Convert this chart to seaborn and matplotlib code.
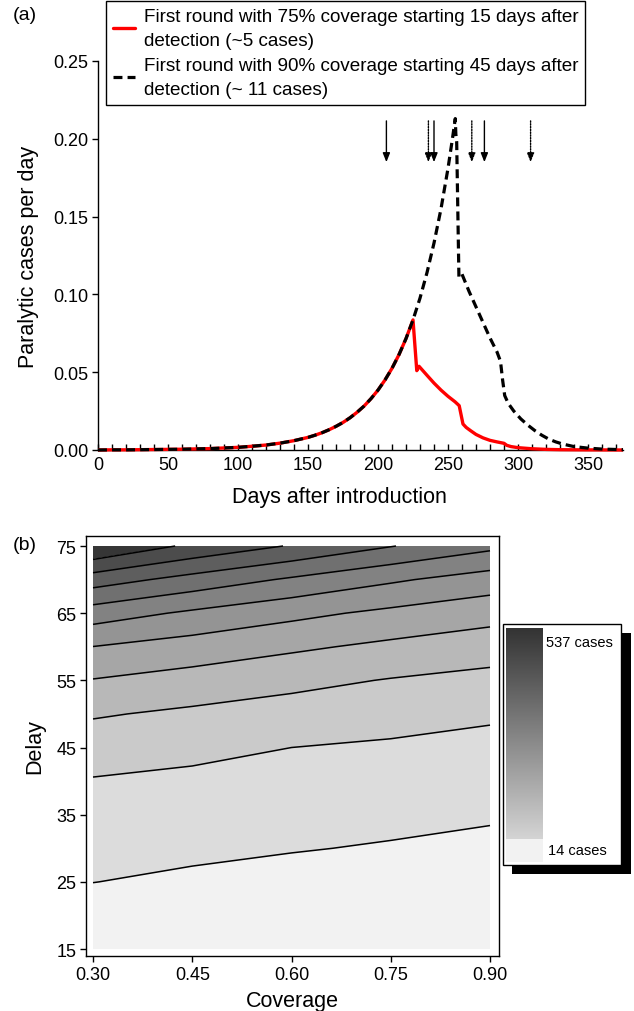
import numpy as np
import pandas as pd
import matplotlib
matplotlib.use("Agg")
import matplotlib.pyplot as plt
from matplotlib.patches import Rectangle
from matplotlib.colors import LinearSegmentedColormap
from matplotlib.lines import Line2D
import seaborn as sns

# ---------------- Panel (a) data ----------------
growth_days = [0, 10, 20, 30, 40, 50, 60, 70, 80, 90, 100, 110, 120, 130, 140,
               150, 155, 160, 165, 170, 175, 180, 185, 190, 195, 200, 205, 210,
               215, 220, 225]
growth_vals = [0.0000, 0.0001, 0.0001, 0.0002, 0.0003, 0.0004, 0.0005, 0.0007,
               0.0009, 0.0013, 0.0017, 0.0024, 0.0032, 0.0044, 0.0060, 0.0081,
               0.0095, 0.0111, 0.0130, 0.0152, 0.0177, 0.0207, 0.0242, 0.0282,
               0.0330, 0.0385, 0.0450, 0.0525, 0.0613, 0.0716, 0.0836]

red_days_after = [227.7, 229.3, 235, 240, 245, 250, 255, 258, 260.7, 263, 266,
                  270, 275, 280, 285, 290, 292, 295, 300, 310, 320, 330, 345, 375]
red_vals_after = [0.0510, 0.0538, 0.0480, 0.0430, 0.0385, 0.0345, 0.0310, 0.0285,
                  0.0167, 0.0145, 0.0125, 0.0100, 0.0078, 0.0062, 0.0052, 0.0043,
                  0.0030, 0.0022, 0.0015, 0.0008, 0.0004, 0.0002, 0.0001, 0.0000]

black_days_after = [230, 235, 240, 245, 250, 253, 255.2, 255.6, 256.2, 256.9,
                    257.8, 260.0, 265, 270, 275, 280, 285, 287.5, 289, 290.5, 293,
                    297, 302, 307, 312, 317, 322, 327, 332, 340, 350, 360, 375]
black_vals_after = [0.0976, 0.1140, 0.1330, 0.1550, 0.1810, 0.1990, 0.2130, 0.2030,
                    0.1980, 0.1600, 0.1110, 0.1130, 0.1020, 0.0920, 0.0820, 0.0720,
                    0.0630, 0.0570, 0.0450, 0.0350, 0.0300, 0.0250, 0.0200, 0.0160,
                    0.0125, 0.0095, 0.0070, 0.0052, 0.0038, 0.0022, 0.0012, 0.0006,
                    0.0002]

solid_arrow_days = [206, 240, 276]
dotted_arrow_days = [236, 267, 309]

red_label = "First round with 75% coverage starting 15 days after\ndetection (~5 cases)"
black_label = "First round with 90% coverage starting 45 days after\ndetection (~ 11 cases)"

# ---------------- Panel (b) data ----------------
coverage = [0.30, 0.45, 0.60, 0.75, 0.90]
delay = [15, 20, 25, 30, 35, 40, 45, 50, 55, 60, 65, 70, 75]
cases = [
    [22, 18, 16, 15, 14],
    [42, 34, 26, 19, 17],
    [62, 54, 46, 38, 30],
    [76, 70, 64, 58, 50],
    [91, 85, 79, 73, 67],
    [106, 100, 94, 88, 82],
    [131, 120, 109, 103, 97],
    [161, 148, 137, 126, 115],
    [202, 186, 169, 154, 143],
    [251, 231, 212, 194, 178],
    [323, 291, 264, 241, 222],
    [417, 377, 340, 306, 277],
    [537, 479, 438, 396, 358],
]
case_levels = [14, 61.5, 109, 156.5, 204, 251.5, 299, 346.5, 394, 441.5, 489, 537]
band_colors = ['#f2f2f2', '#dcdcdc', '#cacaca', '#b8b8b8', '#a6a6a6', '#949494',
               '#828282', '#707070', '#5e5e5e', '#4c4c4c', '#363636']

# ---------------- Style ----------------
sns.set_theme(style="white")
plt.rcParams['font.family'] = ['Liberation Sans', 'DejaVu Sans']
plt.rcParams['axes.edgecolor'] = 'black'
plt.rcParams['axes.linewidth'] = 1.0
plt.rcParams['text.color'] = 'black'
plt.rcParams['xtick.color'] = 'black'
plt.rcParams['ytick.color'] = 'black'
plt.rcParams['axes.labelcolor'] = 'black'

W, H = 634, 1012
def fx(px):
    return px / W
def fy(py):
    return 1 - py / H

fig = plt.figure(figsize=(W / 100, H / 100), dpi=100)
fig.patch.set_facecolor('white')

# ---------------- Panel (a) ----------------
ax1 = fig.add_axes([fx(98), fy(451), fx(623) - fx(98), fy(62) - fy(451)])
ax1.set_facecolor('white')

red_df = pd.DataFrame({"day": growth_days + red_days_after,
                       "rate": growth_vals + red_vals_after})
black_df = pd.DataFrame({"day": growth_days + black_days_after,
                         "rate": growth_vals + black_vals_after})

sns.lineplot(data=red_df, x="day", y="rate", ax=ax1, color="#ff0000", lw=2.4,
             sort=False, estimator=None, legend=False)
sns.lineplot(data=black_df, x="day", y="rate", ax=ax1, color="black", lw=2.3,
             sort=False, estimator=None, legend=False)
red_line, black_line = ax1.lines[0], ax1.lines[1]
black_line.set_dashes([2.8, 1.6])
red_line.set_zorder(3)
black_line.set_zorder(4)
for ln in (red_line, black_line):
    ln.set_clip_on(False)
    ln.set_solid_capstyle('butt')

arrow_style = '-|>,head_length=0.45,head_width=0.18'
for d in solid_arrow_days:
    ax1.annotate('', xy=(d, 0.185), xytext=(d, 0.2115),
                 arrowprops=dict(arrowstyle=arrow_style, color='black', lw=1.0,
                                 shrinkA=0, shrinkB=0))
for d in dotted_arrow_days:
    ax1.annotate('', xy=(d, 0.185), xytext=(d, 0.2115),
                 arrowprops=dict(arrowstyle=arrow_style, color='black', lw=1.0,
                                 linestyle=(0, (1, 1)), shrinkA=0, shrinkB=0))

ax1.set_xlim(0, 375)
ax1.set_ylim(0, 0.25)
ax1.set_xticks([0, 50, 100, 150, 200, 250, 300, 350])
ax1.set_xticks(np.arange(0, 376, 10), minor=True)
ax1.set_yticks([0.00, 0.05, 0.10, 0.15, 0.20, 0.25])
ax1.set_yticklabels(["0.00", "0.05", "0.10", "0.15", "0.20", "0.25"])
ax1.tick_params(axis='x', which='both', direction='in', length=4, width=1,
                labelsize=13, pad=4, bottom=True)
ax1.tick_params(axis='y', which='major', direction='out', length=4, width=1,
                labelsize=13, pad=3, left=True)
for s in ('top', 'right'):
    ax1.spines[s].set_visible(False)
ax1.set_xlabel("Days after introduction", fontsize=15.5)
ax1.set_ylabel("Paralytic cases per day", fontsize=15.5)
ax1.xaxis.set_label_coords(0.46, -0.092)
ax1.yaxis.set_label_coords(-0.112, 0.5)

handles = [Line2D([0], [0], color='#ff0000', lw=2.4),
           Line2D([0], [0], color='black', lw=2.3, dashes=[2.8, 1.6])]
leg = ax1.legend(handles, [red_label, black_label], loc='upper left',
                 bbox_to_anchor=(fx(106), fy(2)), bbox_transform=fig.transFigure,
                 frameon=True, fancybox=False, edgecolor='black', framealpha=1,
                 fontsize=13.6, handlelength=1.2, handletextpad=0.45, borderpad=0.35,
                 labelspacing=0.38, borderaxespad=0)
leg.get_frame().set_linewidth(1.0)
for t in leg.get_texts():
    t.set_linespacing(1.6)

fig.text(fx(13), fy(15), "(a)", fontsize=14, va='center', ha='left')

# ---------------- Panel (b) ----------------
ax2 = fig.add_axes([fx(86), fy(957), fx(499) - fx(86), fy(537) - fy(957)])
ax2.set_facecolor('white')
Z = np.array(cases, dtype=float)
ax2.contourf(coverage, delay, Z, levels=case_levels,
             colors=band_colors, antialiased=True)
ax2.contour(coverage, delay, Z, levels=case_levels[1:-1], colors='black',
            linewidths=1.1)
ax2.set_xlim(0.2894, 0.9136)
ax2.set_ylim(13.96, 76.49)
ax2.set_xticks([0.30, 0.45, 0.60, 0.75, 0.90])
ax2.set_xticklabels(["0.30", "0.45", "0.60", "0.75", "0.90"])
ax2.set_yticks([15, 25, 35, 45, 55, 65, 75])
ax2.tick_params(axis='both', which='major', direction='out', length=4, width=1,
                labelsize=13, pad=3, left=True, bottom=True)
for s in ax2.spines.values():
    s.set_visible(True)
    s.set_linewidth(1.0)
    s.set_color('black')
ax2.set_xlabel("Coverage", fontsize=15.5)
ax2.set_ylabel("Delay", fontsize=15.5)
ax2.xaxis.set_label_coords(0.5, -0.08)
ax2.yaxis.set_label_coords(-0.098, 0.5)

fig.text(fx(13), fy(545), "(b)", fontsize=14, va='center', ha='left')

# ---------------- Shade key (colour bar) ----------------
cax = fig.add_axes([fx(498), fy(884), fx(634) - fx(498), fy(618) - fy(884)])
cax.set_xlim(498, 634)
cax.set_ylim(884, 618)
cax.axis('off')
cax.add_patch(Rectangle((512, 634), 119, 241, facecolor='black', edgecolor='none', zorder=1))
cax.add_patch(Rectangle((503, 625), 118, 241, facecolor='white', edgecolor='black',
                        lw=1.0, zorder=2))
grad_cmap = LinearSegmentedColormap.from_list('g', ['#d4d4d4', '#333333'])
grad = np.linspace(1, 0, 256)[:, None]
cax.imshow(grad, extent=(506, 543, 840, 629), cmap=grad_cmap, aspect='auto',
           origin='upper', zorder=3, interpolation='bilinear')
cax.add_patch(Rectangle((506, 840), 37, 23, facecolor='#f2f2f2', edgecolor='none', zorder=3))
zmax, zmin = int(Z.max()), int(Z.min())
cax.text(546, 643, f"{zmax} cases", fontsize=10.5, va='center', ha='left', zorder=4)
cax.text(548, 851, f"{zmin} cases", fontsize=10.5, va='center', ha='left', zorder=4)

fig.savefig("out.png", dpi=100, facecolor='white')
